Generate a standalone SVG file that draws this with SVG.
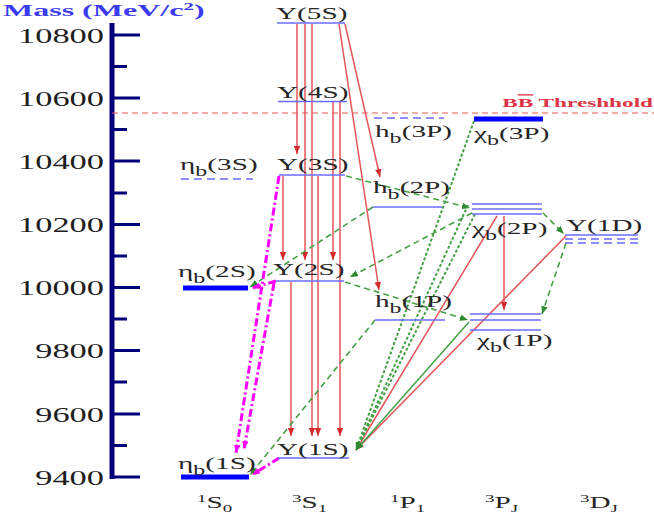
<svg xmlns="http://www.w3.org/2000/svg" width="654" height="521" viewBox="0 0 654 521">
<defs>
<style>
.lbl{font-family:"Liberation Serif","Times New Roman",serif;font-size:17px;fill:#262626}
.sb{font-size:14px}
.num{font-family:"Liberation Serif","Times New Roman",serif;font-size:20px;fill:#1e1e1e;text-anchor:end}
.axis{stroke:#00007a;fill:none}
.lv{stroke:#6b6bff;stroke-width:1.5;fill:none}
.lvd{stroke:#6b6bff;stroke-width:1.3;fill:none;stroke-dasharray:8,5}
.thick{stroke:#0000ff;stroke-width:5;fill:none}
.red{stroke:#e4555a;stroke-width:1.5;fill:none;marker-end:url(#ar)}
.gd{stroke:#46a046;stroke-width:1.6;fill:none;stroke-dasharray:6,4;marker-end:url(#ag)}
.gdot{stroke:#46a046;stroke-width:2;fill:none;stroke-dasharray:3,2;marker-end:url(#ag)}
.gs{stroke:#46a046;stroke-width:1.5;fill:none;marker-end:url(#ag)}
.mg{stroke:#ff00ff;stroke-width:3;fill:none;stroke-dasharray:8,3,2,3;marker-end:url(#am)}
</style>
<marker id="ar" viewBox="0 0 10 8" refX="10" refY="4" markerWidth="8" markerHeight="6.4" markerUnits="userSpaceOnUse" orient="auto"><path d="M0,0 L10,4 L0,8 z" fill="#d42a2e"/></marker>
<marker id="ag" viewBox="0 0 10 8" refX="10" refY="4" markerWidth="8" markerHeight="6.4" markerUnits="userSpaceOnUse" orient="auto"><path d="M0,0 L10,4 L0,8 z" fill="#2e8a2e"/></marker>
<marker id="am" viewBox="0 0 10 8" refX="10" refY="4" markerWidth="8" markerHeight="6.4" markerUnits="userSpaceOnUse" orient="auto"><path d="M0,0 L10,4 L0,8 z" fill="#ff00ff"/></marker>
</defs>
<rect width="654" height="521" fill="#ffffff"/>

<g id="axis">
<text transform="translate(3,16) scale(1.94,1)" font-family="Liberation Serif, Times New Roman, serif" font-size="16.5" font-weight="bold" fill="#3b3bf0">Mass (MeV/c<tspan font-size="11" dy="-6">2</tspan><tspan dy="6">)</tspan></text>
<line class="axis" x1="112" y1="23" x2="112" y2="479" stroke-width="5"/>
<g class="axis" stroke-width="3">
<line x1="112" y1="35" x2="140" y2="35"/>
<line x1="112" y1="98" x2="140" y2="98"/>
<line x1="112" y1="161" x2="140" y2="161"/>
<line x1="112" y1="224.5" x2="140" y2="224.5"/>
<line x1="112" y1="287.5" x2="140" y2="287.5"/>
<line x1="112" y1="350.5" x2="140" y2="350.5"/>
<line x1="112" y1="414" x2="140" y2="414"/>
<line x1="112" y1="477" x2="140" y2="477"/>
<line x1="112" y1="66.5" x2="127" y2="66.5"/>
<line x1="112" y1="129.5" x2="127" y2="129.5"/>
<line x1="112" y1="193" x2="127" y2="193"/>
<line x1="112" y1="256" x2="127" y2="256"/>
<line x1="112" y1="319" x2="127" y2="319"/>
<line x1="112" y1="382" x2="127" y2="382"/>
<line x1="112" y1="445.5" x2="127" y2="445.5"/>
</g>
<text class="num" transform="translate(104,42.5) scale(1.72,1)">10800</text>
<text class="num" transform="translate(104,105.5) scale(1.72,1)">10600</text>
<text class="num" transform="translate(104,168.5) scale(1.72,1)">10400</text>
<text class="num" transform="translate(104,232) scale(1.72,1)">10200</text>
<text class="num" transform="translate(104,295) scale(1.72,1)">10000</text>
<text class="num" transform="translate(104,358) scale(1.72,1)">9800</text>
<text class="num" transform="translate(104,421.5) scale(1.72,1)">9600</text>
<text class="num" transform="translate(104,484.5) scale(1.72,1)">9400</text>
</g>

<g id="threshold">
<line x1="112" y1="113" x2="654" y2="113" stroke="#e85a5a" stroke-width="1.2" stroke-dasharray="6,4"/>
<text transform="translate(653,107) scale(1.72,1)" text-anchor="end" font-family="Liberation Serif, Times New Roman, serif" font-size="13.5" font-weight="bold" fill="#dc3545">B<tspan text-decoration="overline">B</tspan> Threshhold</text>
</g>

<g id="connectors">
<line class="red" x1="297" y1="24" x2="297" y2="154"/>
<line class="red" x1="305" y1="24" x2="305" y2="260"/>
<line class="red" x1="312" y1="24" x2="312" y2="436"/>
<line class="red" x1="333" y1="102" x2="333" y2="260"/>
<line class="red" x1="340" y1="102" x2="340" y2="436"/>
<line class="red" x1="283" y1="176" x2="283" y2="260"/>
<line class="red" x1="318" y1="176" x2="318" y2="436"/>
<line class="red" x1="291" y1="282" x2="291" y2="436"/>
<line class="red" x1="345" y1="24" x2="380" y2="177"/>
<line class="red" x1="339" y1="24" x2="379" y2="290"/>
<line class="red" x1="504" y1="216" x2="504" y2="310"/>
<line class="red" x1="497" y1="216" x2="356" y2="450"/>
<line class="red" x1="566" y1="236" x2="356" y2="450"/>

<line class="gd" x1="346" y1="176" x2="470" y2="208"/>
<line class="gd" x1="472" y1="213" x2="350" y2="277"/>
<line class="gd" x1="345" y1="282" x2="468" y2="320"/>
<line class="gd" x1="543" y1="213" x2="564" y2="234"/>
<line class="gd" x1="566" y1="243" x2="542" y2="314"/>
<line class="gd" x1="373" y1="207" x2="250" y2="287"/>
<line class="gd" x1="375" y1="320" x2="250" y2="475"/>
<line class="gdot" x1="474" y1="121" x2="356" y2="450"/>
<line class="gdot" x1="468" y1="205" x2="356" y2="450"/>
<line class="gdot" x1="475" y1="214" x2="356" y2="450"/>
<line class="gs" x1="469" y1="322" x2="356" y2="450"/>

<line class="mg" x1="279" y1="176" x2="236" y2="453"/>
<line class="mg" x1="274" y1="283" x2="244" y2="449"/>
<line class="mg" x1="276" y1="281" x2="252" y2="288"/>
<line class="mg" x1="279" y1="458" x2="252" y2="475"/>
</g>

<g id="etab3S">
<line class="lvd" x1="181" y1="179" x2="253" y2="179"/>
<text class="lbl" transform="translate(180,170) scale(1.72,1)">η<tspan class="sb" dy="6">b</tspan><tspan dy="-6">(3S)</tspan></text>
</g>
<g id="etab2S">
<line class="thick" x1="183" y1="288" x2="248" y2="288"/>
<text class="lbl" transform="translate(178,277) scale(1.72,1)">η<tspan class="sb" dy="6">b</tspan><tspan dy="-6">(2S)</tspan></text>
</g>
<g id="etab1S">
<line class="thick" x1="181" y1="477" x2="249" y2="477"/>
<text class="lbl" transform="translate(178,469) scale(1.72,1)">η<tspan class="sb" dy="6">b</tspan><tspan dy="-6">(1S)</tspan></text>
</g>

<g id="Y5S">
<line class="lv" x1="277" y1="23" x2="345" y2="23"/>
<text class="lbl" transform="translate(276,19) scale(1.72,1)">Y(5S)</text>
</g>
<g id="Y4S">
<line class="lv" x1="278" y1="101.5" x2="347" y2="101.5"/>
<text class="lbl" transform="translate(277,98) scale(1.72,1)">Y(4S)</text>
</g>
<g id="Y3S">
<line class="lv" x1="279" y1="175" x2="345" y2="175"/>
<text class="lbl" transform="translate(277,170) scale(1.72,1)">Y(3S)</text>
</g>
<g id="Y2S">
<line class="lv" x1="276" y1="281" x2="344" y2="281"/>
<text class="lbl" transform="translate(273,275) scale(1.72,1)">Y(2S)</text>
</g>
<g id="Y1S">
<line class="lv" x1="278" y1="458" x2="349" y2="458"/>
<text class="lbl" transform="translate(277,455) scale(1.72,1)">Y(1S)</text>
</g>

<g id="hb3P">
<line class="lvd" x1="374" y1="118" x2="444" y2="118"/>
<text class="lbl" transform="translate(375,137) scale(1.72,1)">h<tspan class="sb" dy="6">b</tspan><tspan dy="-6">(3P)</tspan></text>
</g>
<g id="hb2P">
<line class="lv" x1="373" y1="207" x2="442" y2="207"/>
<text class="lbl" transform="translate(373,193) scale(1.72,1)">h<tspan class="sb" dy="6">b</tspan><tspan dy="-6">(2P)</tspan></text>
</g>
<g id="hb1P">
<line class="lv" x1="375" y1="320" x2="445" y2="320"/>
<text class="lbl" transform="translate(375,307) scale(1.72,1)">h<tspan class="sb" dy="6">b</tspan><tspan dy="-6">(1P)</tspan></text>
</g>

<g id="chib3P">
<line class="thick" x1="474" y1="119" x2="543" y2="119"/>
<text class="lbl" transform="translate(474,139) scale(1.72,1)">χ<tspan class="sb" dy="6">b</tspan><tspan dy="-6">(3P)</tspan></text>
</g>
<g id="chib2P">
<line class="lv" x1="472" y1="204" x2="542" y2="204"/>
<line class="lv" x1="472" y1="209" x2="542" y2="209"/>
<line class="lv" x1="472" y1="214" x2="542" y2="214"/>
<text class="lbl" transform="translate(472,234) scale(1.72,1)">χ<tspan class="sb" dy="6">b</tspan><tspan dy="-6">(2P)</tspan></text>
</g>
<g id="chib1P">
<line class="lv" x1="470" y1="314" x2="541" y2="314"/>
<line class="lv" x1="470" y1="320" x2="541" y2="320"/>
<line class="lv" x1="470" y1="330" x2="541" y2="330"/>
<text class="lbl" transform="translate(477,346) scale(1.72,1)">χ<tspan class="sb" dy="6">b</tspan><tspan dy="-6">(1P)</tspan></text>
</g>
<g id="Y1D">
<line class="lv" x1="565" y1="235" x2="638" y2="235"/>
<line class="lvd" x1="565" y1="239" x2="638" y2="239"/>
<line class="lvd" x1="565" y1="243" x2="638" y2="243"/>
<text class="lbl" transform="translate(566,231) scale(1.72,1)">Y(1D)</text>
</g>

<g id="columns">
<text class="lbl" transform="translate(197,508) scale(1.72,1)"><tspan font-size="11" dy="-6">1</tspan><tspan dy="6">S</tspan><tspan font-size="11" dy="4">0</tspan></text>
<text class="lbl" transform="translate(292,508) scale(1.72,1)"><tspan font-size="11" dy="-6">3</tspan><tspan dy="6">S</tspan><tspan font-size="11" dy="4">1</tspan></text>
<text class="lbl" transform="translate(390,508) scale(1.72,1)"><tspan font-size="11" dy="-6">1</tspan><tspan dy="6">P</tspan><tspan font-size="11" dy="4">1</tspan></text>
<text class="lbl" transform="translate(485,508) scale(1.72,1)"><tspan font-size="11" dy="-6">3</tspan><tspan dy="6">P</tspan><tspan font-size="11" dy="4">J</tspan></text>
<text class="lbl" transform="translate(580,508) scale(1.72,1)"><tspan font-size="11" dy="-6">3</tspan><tspan dy="6">D</tspan><tspan font-size="11" dy="4">J</tspan></text>
</g>
</svg>
